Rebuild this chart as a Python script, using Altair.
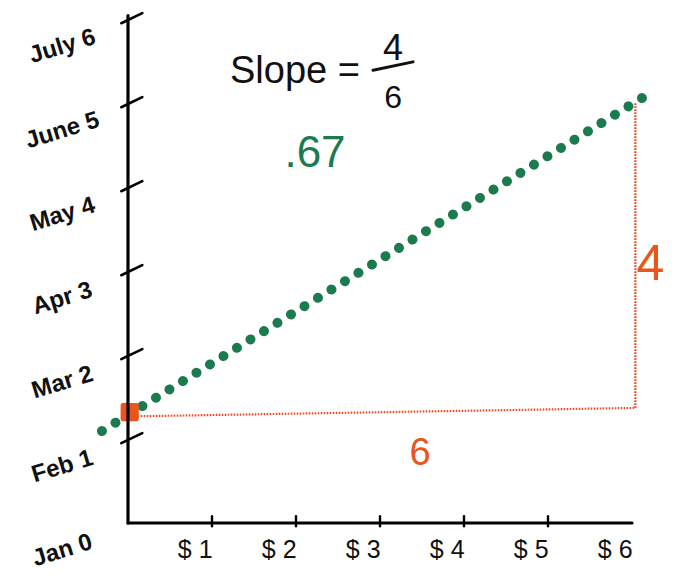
import altair as alt
import pandas as pd

# ---- data ----
y_values = [0, 1, 2, 3, 4, 5, 6]
months = ["Jan", "Feb", "Mar", "Apr", "May", "June", "July"]
x_values = [1, 2, 3, 4, 5, 6]
x_labels = ["$1", "$2", "$3", "$4", "$5", "$6"]

green_x = [-0.31, 6.12]
green_y = [1.095, 5.06]

start_x = [0.02]
start_y = [1.32]

run_x = [0.08, 6.04]
run_y = [1.27, 1.37]
rise_x = [6.04, 6.04]
rise_y = [1.37, 5.0]

slope_text = "Slope ="
slope_num = "4"
slope_den = "6"
slope_value = ".67"
run_label = "6"
rise_label = "4"

GREEN = "#1b7a4e"
ORANGE = "#e8561c"
RED = "#ee4a22"
FONT = "Liberation Sans"

xs = alt.Scale(domain=[-1.4286, 6.4048], nice=False, zero=False)
ys = alt.Scale(domain=[-0.5595, 6.131], nice=False, zero=False)

def X(f):
    return alt.X(f, type="quantitative", scale=xs, axis=None)

def Y(f):
    return alt.Y(f, type="quantitative", scale=ys, axis=None)

# axes
yaxis_df = pd.DataFrame({"x": [0], "y": [0], "y2": [6.04]})
yaxis = alt.Chart(yaxis_df).mark_rule(color="black", strokeWidth=3.2, strokeCap="round").encode(
    x=X("x"), y=Y("y"), y2="y2")
xaxis_df = pd.DataFrame({"x": [0], "x2": [6.0], "y": [0]})
xaxis = alt.Chart(xaxis_df).mark_rule(color="black", strokeWidth=3.2, strokeCap="round").encode(
    x=X("x"), x2="x2", y=Y("y"))

ytick_df = pd.DataFrame({"v": y_values[1:]})
yticks = alt.Chart(ytick_df).transform_calculate(
    xa="-0.08", xb="0.17", ya="datum.v - 0.05", yb="datum.v + 0.07"
).mark_rule(color="black", strokeWidth=2.6, strokeCap="round").encode(
    x=X("xa:Q"), x2="xb:Q", y=Y("ya:Q"), y2="yb:Q")

xtick_df = pd.DataFrame({"v": x_values[:-1]})
xticks = alt.Chart(xtick_df).transform_calculate(
    ya="-0.04", yb="0.08"
).mark_rule(color="black", strokeWidth=2.4, strokeCap="round").encode(
    x=X("v:Q"), y=Y("ya:Q"), y2="yb:Q")

ylab_df = pd.DataFrame({"v": y_values, "m": months})
ylabels = alt.Chart(ylab_df).transform_calculate(
    label="datum.m + '  ' + datum.v", lx="-0.78", ly="datum.v - 0.33"
).mark_text(font=FONT, fontSize=24, fontWeight="bold", angle=343, align="center",
            baseline="middle", color="#111").encode(
    x=X("lx:Q"), y=Y("ly:Q"), text="label:N")

xlab_df = pd.DataFrame({"v": x_values, "t": x_labels})
xlabels = alt.Chart(xlab_df).transform_calculate(
    label="replace(datum.t, '$', '$ ')", lx="datum.v - 0.2", ly="-0.417"
).mark_text(font=FONT, fontSize=25, align="center", baseline="alphabetic",
            color="#111").encode(
    x=X("lx:Q"), y=Y("ly:Q"), text="label:N")

# green dotted line
green_df = pd.DataFrame({"x": green_x, "y": green_y})
green = alt.Chart(green_df).mark_line(color=GREEN, strokeWidth=10, strokeCap="round",
                                      strokeDash=[0.01, 15.85]).encode(x=X("x"), y=Y("y"))

# red dotted rise/run
run_df = pd.DataFrame({"x": run_x, "y": run_y})
run = alt.Chart(run_df).mark_line(color=RED, strokeWidth=2.2, strokeDash=[1.6, 1.4]).encode(
    x=X("x"), y=Y("y"))
rise_df = pd.DataFrame({"x": rise_x, "y": rise_y, "o": [0, 1]})
rise = alt.Chart(rise_df).mark_line(color=RED, strokeWidth=2.2, strokeDash=[1.6, 1.4]).encode(
    x=X("x"), y=Y("y"), order="o:Q")

# orange start point
start_df = pd.DataFrame({"x": start_x, "y": start_y})
start = alt.Chart(start_df).mark_point(shape="square", filled=True, size=200, color=ORANGE,
                                       opacity=1, strokeJoin="round", strokeWidth=4,
                                       stroke=ORANGE).encode(x=X("x"), y=Y("y"))

# annotations
ann_df = pd.DataFrame({
    "t": [slope_text, slope_num, slope_den, slope_value, run_label, rise_label],
    "x": [1.214, 3.155, 3.155, 2.226, 3.476, 6.22],
    "y": [5.24, 5.51, 4.94, 4.24, 0.69, 2.89],
    "s": [38, 36, 32, 44, 38, 50],
    "c": ["#111", "#111", "#111", GREEN, ORANGE, ORANGE],
    "a": ["left", "center", "center", "center", "center", "center"],
})
texts = []
for i, row in ann_df.iterrows():
    d = pd.DataFrame([row])
    texts.append(alt.Chart(d).mark_text(font=FONT, fontSize=int(row["s"]), align=row["a"],
                                        baseline="alphabetic", color=row["c"]).encode(
        x=X("x"), y=Y("y"), text="t:N"))

bar_df = pd.DataFrame({"x": [2.917], "x2": [3.393], "y": [5.39], "y2": [5.49]})
bar = alt.Chart(bar_df).mark_rule(color="#111", strokeWidth=3, strokeCap="round").encode(
    x=X("x"), x2="x2", y=Y("y"), y2="y2")

chart = alt.layer(
    run, rise, green, start, yaxis, xaxis, yticks, xticks, ylabels, xlabels, bar, *texts
).properties(
    width=658, height=562, autosize=alt.AutoSizeParams(type="none"), padding=0,
    background="white"
).configure_view(stroke=None)

chart.save("out.html", embed_options={"renderer": "svg", "actions": False})
